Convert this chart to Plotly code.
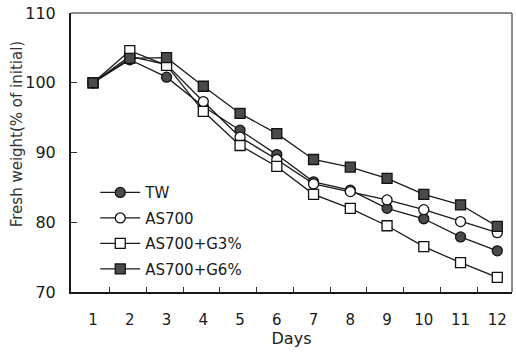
import plotly.graph_objects as go

days = list(range(1, 13))
tw = [100, 103.3, 100.8, 96.6, 93.2, 89.7, 85.8, 84.6, 82.0, 80.5, 77.9, 75.9]
as700 = [100, 103.8, 102.6, 97.3, 92.2, 89.0, 85.5, 84.4, 83.2, 81.8, 80.1, 78.5]
as700_g3 = [100, 104.6, 102.5, 95.9, 91.0, 88.0, 84.0, 82.0, 79.5, 76.5, 74.2, 72.1]
as700_g6 = [100, 103.5, 103.6, 99.5, 95.6, 92.7, 89.0, 87.9, 86.3, 84.0, 82.5, 79.4]
y_ticks = [70, 80, 90, 100, 110]

series = [
    ("TW", tw, "circle", "#4a4a4a"),
    ("AS700", as700, "circle", "white"),
    ("AS700+G3%", as700_g3, "square", "white"),
    ("AS700+G6%", as700_g6, "square", "#4a4a4a"),
]

FONT = "DejaVu Sans"
fig = go.Figure()
for name, vals, sym, fill in series:
    fig.add_trace(go.Scatter(
        x=days, y=vals, name=name, mode="lines+markers",
        legendgroup=name,
        line=dict(color="#1a1a1a", width=1.3),
        marker=dict(symbol=sym, size=10, color=fill,
                    line=dict(color="#111111", width=1.3)),
    ))

fig.update_layout(
    width=516, height=353,
    margin=dict(l=71, r=4, t=13, b=61),
    paper_bgcolor="white", plot_bgcolor="white",
    font=dict(family=FONT, color="#1a1a1a"),
    showlegend=True,
    legend=dict(x=0.055, y=0.415, xanchor="left", yanchor="top",
                bgcolor="rgba(0,0,0,0)", font=dict(size=15, family=FONT),
                tracegroupgap=3, itemwidth=40),
    xaxis=dict(range=[0.4, 12.4], tickmode="array", tickvals=days,
               ticktext=[str(d) for d in days], ticks="",
               showgrid=False, zeroline=False, showline=True,
               linecolor="#1a1a1a", linewidth=2,
               tickfont=dict(size=15, family=FONT), ticklabelstandoff=13,
               minor=dict(tickmode="array", tickvals=[d + 0.45 for d in days[:-1]],
                          ticks="inside", ticklen=5, tickcolor="#333", tickwidth=1),
               title=dict(text="Days", font=dict(size=16, family=FONT), standoff=1)),
    yaxis=dict(range=[70, 110], tickmode="array", tickvals=y_ticks,
               ticks="inside", ticklen=6, tickcolor="#333", tickwidth=1,
               showgrid=False, zeroline=False, showline=True,
               linecolor="#1a1a1a", linewidth=2,
               tickfont=dict(size=16, family=FONT), ticklabelstandoff=10),
    annotations=[
        dict(text="Fresh weight(% of initial)", xref="paper", yref="paper",
             x=-0.122, y=0.566, xanchor="center", yanchor="middle",
             textangle=-90, showarrow=False,
             font=dict(size=15, family=FONT, color="#333")),
    ],
    shapes=[
        dict(type="line", xref="paper", yref="paper", x0=0, x1=1, y0=1, y1=1,
             line=dict(color="#666", width=1.5)),
        dict(type="line", xref="paper", yref="paper", x0=1, x1=1, y0=0, y1=1,
             line=dict(color="#666", width=1.5)),
    ],
)

fig.write_html("out.html")
